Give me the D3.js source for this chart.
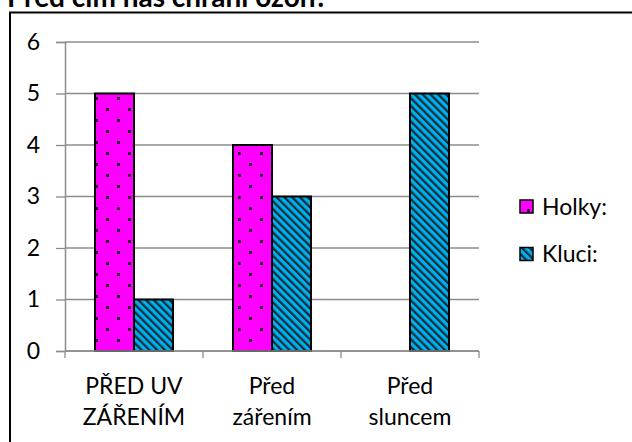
<!DOCTYPE html>
<html>
<head>
<meta charset="utf-8">
<script src="https://cdn.jsdelivr.net/npm/d3@7"></script>
<style>
  body { margin: 0; background: #fff; }
  svg { display: block; }
  text { font-family: Lato, "Noto Sans", sans-serif; fill: #000; }
</style>
</head>
<body>
<svg id="chart" width="632" height="442"></svg>
<script>
// chart data
var title = "Před čím nás chrání ozon?";
var categories = ["PŘED UV\nZÁŘENÍM", "Před\nzářením", "Před\nsluncem"];
var series = ["Holky:", "Kluci:"];
var holky = [5, 4, 0];
var kluci = [1, 3, 5];
var yTicks = [0, 1, 2, 3, 4, 5, 6];

var values = [holky, kluci];
var fills = ["url(#dots)", "url(#stripes)"];

var svg = d3.select("#chart");

// patterns for the bars
var defs = svg.append("defs");
var dots = defs.append("pattern")
    .attr("id", "dots")
    .attr("patternUnits", "userSpaceOnUse")
    .attr("width", 22).attr("height", 22)
    .attr("x", 7).attr("y", 9);
dots.append("rect").attr("width", 22).attr("height", 22).attr("fill", "#ff00ff");
dots.append("rect").attr("x", 0).attr("y", 0).attr("width", 3).attr("height", 3).attr("fill", "#222");
dots.append("rect").attr("x", 11).attr("y", 11).attr("width", 3).attr("height", 3).attr("fill", "#222");

var stripes = defs.append("pattern")
    .attr("id", "stripes")
    .attr("patternUnits", "userSpaceOnUse")
    .attr("width", 5.5).attr("height", 5.5)
    .attr("patternTransform", "rotate(-45)");
stripes.append("rect").attr("width", 5.5).attr("height", 5.5).attr("fill", "#00b0f0");
stripes.append("rect").attr("width", 2.3).attr("height", 5.5).attr("fill", "#10303c");

// outer frame (runs off the picture on the right and bottom)
svg.append("rect")
    .attr("x", 10).attr("y", 12.5)
    .attr("width", 700).attr("height", 500)
    .attr("fill", "none")
    .attr("stroke", "#000")
    .attr("stroke-width", 2);

// title, mostly cut off at the top
svg.append("text")
    .attr("x", 7).attr("y", 7)
    .style("font-weight", "bold")
    .style("font-size", "28px")
    .text(title);

// scales
var x0 = d3.scaleBand().domain(categories).range([65, 479]).padding(0);
var x1 = d3.scaleBand().domain(series).range([0, x0.bandwidth()]).paddingInner(0).paddingOuter(0.77);
var y = d3.scaleLinear().domain([0, 6]).range([351, 42]);

// gridlines
svg.append("g")
    .selectAll("line")
    .data(yTicks)
    .join("line")
    .attr("x1", 65).attr("x2", 479)
    .attr("y1", function(d) { return y(d); })
    .attr("y2", function(d) { return y(d); })
    .attr("stroke", "#8c8c8c")
    .attr("stroke-width", 1.3);

// y axis
var yAxis = svg.append("g")
    .attr("transform", "translate(65,0)")
    .call(d3.axisLeft(y).tickValues(yTicks).tickSize(9).tickPadding(16).tickFormat(d3.format("d")));
yAxis.select(".domain").attr("stroke", "#8c8c8c").attr("stroke-width", 1.5);
yAxis.selectAll(".tick line").attr("stroke", "#8c8c8c").attr("stroke-width", 1.3);
yAxis.selectAll(".tick text")
    .style("font-size", "23px")
    .style("font-family", "Lato, sans-serif")
    .attr("fill", "#000");

// bars
var groups = svg.append("g")
    .selectAll("g")
    .data(series)
    .join("g");

groups.each(function(s, si) {
    d3.select(this).selectAll("rect")
        .data(values[si].map(function(v, ci) { return { cat: categories[ci], value: v }; })
            .filter(function(d) { return d.value > 0; }))
        .join("rect")
        .attr("x", function(d) { return x0(d.cat) + x1(s); })
        .attr("y", function(d) { return y(d.value); })
        .attr("width", x1.bandwidth())
        .attr("height", function(d) { return y(0) - y(d.value); })
        .attr("fill", fills[si])
        .attr("stroke", "#000")
        .attr("stroke-width", 2);
});

// x axis: line with ticks at category boundaries
var xAxis = svg.append("g");
xAxis.append("line")
    .attr("x1", 65).attr("x2", 479)
    .attr("y1", y(0)).attr("y2", y(0))
    .attr("stroke", "#8c8c8c").attr("stroke-width", 1.5);
var bounds = categories.map(function(c) { return x0(c); }).concat([x0.range()[1]]);
xAxis.selectAll(".xt")
    .data(bounds)
    .join("line")
    .attr("class", "xt")
    .attr("x1", function(d) { return d; }).attr("x2", function(d) { return d; })
    .attr("y1", y(0)).attr("y2", y(0) + 7)
    .attr("stroke", "#8c8c8c").attr("stroke-width", 1.3);

var labels = xAxis.selectAll(".xl")
    .data(categories)
    .join("text")
    .attr("class", "xl")
    .attr("text-anchor", "middle")
    .style("font-size", "23px");
labels.selectAll("tspan")
    .data(function(d) { return d.split("\n").map(function(t) { return { t: t, c: d }; }); })
    .join("tspan")
    .attr("x", function(d) { return x0(d.c) + x0.bandwidth() / 2; })
    .attr("y", function(d, i) { return 394 + i * 31; })
    .text(function(d) { return d.t; });

// legend
var legend = svg.append("g")
    .selectAll("g")
    .data(series)
    .join("g")
    .attr("transform", function(d, i) { return "translate(520," + (200 + i * 47.5) + ")"; });
legend.append("rect")
    .attr("width", 13).attr("height", 13)
    .attr("fill", function(d, i) { return fills[i]; })
    .attr("stroke", "#000")
    .attr("stroke-width", 1.5);
legend.append("text")
    .attr("x", 22).attr("y", 14.5)
    .style("font-size", "23px")
    .text(function(d) { return d; });
</script>
</body>
</html>
